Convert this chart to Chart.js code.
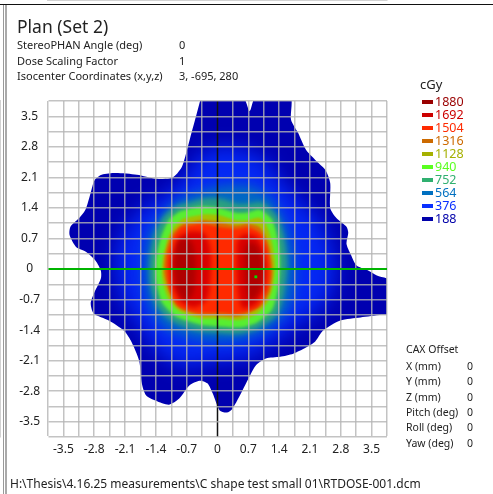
<!DOCTYPE html>
<html>
<head>
<meta charset="utf-8">
<title>Plan (Set 2)</title>
<script src="https://cdn.jsdelivr.net/npm/chart.js@4"></script>
<style>
  html, body { margin: 0; padding: 0; background: #fff; }
  body { position: relative; width: 493px; height: 494px; overflow: hidden; font-family: "Noto Sans", sans-serif; color: #222; }
  canvas { position: absolute; left: 0; top: 0; }
  .txt { position: absolute; white-space: nowrap; line-height: 14px; font-size: 11px; }
  .frame { position: absolute; }
</style>
</head>
<body>
<canvas id="doseChart" width="493" height="494"></canvas>
<div class="frame" style="left:0;top:4px;width:493px;height:1px;background:#111"></div>
<div class="frame" style="left:3px;top:5px;width:1px;height:489px;background:#999"></div>
<div class="frame" style="left:5px;top:5px;width:2px;height:489px;background:#aaa"></div>
<script>
// Axis ticks (grid every 0.35, label every 0.7)
const gridTicks = [-3.85, -3.5, -3.15, -2.8, -2.45, -2.1, -1.75, -1.4, -1.05, -0.7, -0.35, 0, 0.35, 0.7, 1.05, 1.4, 1.75, 2.1, 2.45, 2.8, 3.15, 3.5, 3.85];
const tickLabels = ['', '-3.5', '', '-2.8', '', '-2.1', '', '-1.4', '', '-0.7', '', '0', '', '0.7', '', '1.4', '', '2.1', '', '2.8', '', '3.5', ''];

// Legend
const doseLevels = [1880, 1692, 1504, 1316, 1128, 940, 752, 564, 376, 188];
const doseColors = ['#990000', '#cc0000', '#ff2a00', '#cc6a00', '#a5b000', '#5aff20', '#30b070', '#0070c0', '#0a30ff', '#0000aa'];

// Header and side tables
const headerRows = ['StereoPHAN Angle (deg)', 'Dose Scaling Factor', 'Isocenter Coordinates (x,y,z)'];
const headerValues = ['0', '1', '3, -695, 280'];
const offsetRows = ['X (mm)', 'Y (mm)', 'Z (mm)', 'Pitch (deg)', 'Roll (deg)', 'Yaw (deg)'];
const offsetValues = ['0', '0', '0', '0', '0', '0'];

// Isodose outlines, [x, y] in the axis units
const field188 = [[-0.37, 3.95], [-0.48, 3.53], [-0.59, 3.12], [-0.71, 2.66], [-0.82, 2.32], [-1.03, 2.09], [-1.40, 2.07], [-1.83, 2.16], [-2.31, 2.20], [-2.63, 2.16], [-2.79, 2.04], [-2.88, 1.75], [-3.00, 1.36], [-3.16, 1.15], [-3.34, 0.97], [-3.36, 0.78], [-3.20, 0.49], [-3.00, 0.40], [-2.77, 0.19], [-2.65, -0.04], [-2.65, -0.22], [-2.81, -0.57], [-2.88, -0.79], [-2.81, -1.02], [-2.47, -1.18], [-2.13, -1.41], [-1.97, -1.64], [-1.78, -2.10], [-1.72, -2.62], [-1.62, -2.90], [-1.40, -3.02], [-1.10, -3.11], [-0.87, -2.97], [-0.64, -2.67], [-0.41, -2.56], [-0.23, -2.62], [-0.11, -2.85], [0.05, -3.24], [0.21, -3.29], [0.34, -3.20], [0.57, -2.78], [0.73, -2.46], [0.87, -2.21], [1.10, -2.05], [1.42, -2.01], [1.72, -1.94], [2.01, -1.80], [2.22, -1.66], [2.40, -1.41], [2.79, -1.18], [3.25, -1.11], [3.73, -1.05], [3.95, -1.02], [3.95, -0.28], [3.62, -0.15], [3.39, -0.02], [3.16, 0.08], [3.02, 0.35], [2.93, 0.58], [2.97, 0.83], [2.93, 0.97], [2.70, 1.17], [2.56, 1.40], [2.56, 1.97], [2.45, 2.27], [2.22, 2.50], [2.01, 2.73], [1.83, 3.12], [1.67, 3.42], [1.65, 3.95], [0.87, 3.95], [0.73, 3.62], [0.57, 3.95], [-0.37, 3.95]];
const iso376 = [[-0.41, 2.60], [0.05, 2.80], [0.62, 2.72], [1.08, 2.50], [1.53, 1.90], [1.99, 1.45], [2.38, 1.00], [2.60, 0.44], [2.68, -0.02], [2.60, -0.47], [2.35, -0.90], [1.85, -1.25], [1.30, -1.65], [0.62, -2.05], [-0.07, -2.12], [-0.76, -2.25], [-1.33, -1.92], [-1.70, -1.40], [-2.10, -0.82], [-2.30, -0.13], [-2.30, 0.44], [-2.08, 0.95], [-1.62, 1.45], [-1.00, 1.80], [-0.41, 2.60]];
const iso564 = [[-0.41, 1.77], [0.09, 1.91], [0.73, 1.91], [1.19, 1.65], [1.53, 1.08], [1.72, 0.44], [1.76, -0.02], [1.72, -0.59], [1.53, -1.05], [1.08, -1.43], [0.50, -1.62], [-0.07, -1.66], [-0.64, -1.57], [-1.21, -1.34], [-1.51, -0.93], [-1.65, -0.36], [-1.65, 0.26], [-1.56, 0.78], [-1.21, 1.31], [-0.82, 1.63], [-0.41, 1.77]];
const iso752 = [[-0.64, 1.52], [-0.30, 1.61], [0.09, 1.61], [0.46, 1.49], [0.69, 1.49], [1.01, 1.52], [1.35, 1.22], [1.51, 0.72], [1.58, 0.14], [1.51, -0.54], [1.35, -1.05], [0.96, -1.34], [0.50, -1.48], [0.05, -1.46], [-0.46, -1.41], [-1.01, -1.21], [-1.37, -0.86], [-1.53, -0.29], [-1.53, 0.26], [-1.42, 0.81], [-1.21, 1.22], [-0.92, 1.45], [-0.64, 1.52]];
const iso940 = [[-0.87, 1.31], [-0.64, 1.38], [-0.34, 1.43], [0.05, 1.40], [0.43, 1.29], [0.66, 1.29], [0.96, 1.36], [1.24, 1.13], [1.37, 0.67], [1.42, 0.14], [1.37, -0.47], [1.24, -0.93], [0.89, -1.23], [0.50, -1.34], [0.05, -1.32], [-0.41, -1.27], [-0.94, -1.09], [-1.26, -0.77], [-1.40, -0.24], [-1.40, 0.21], [-1.28, 0.74], [-1.10, 1.13], [-0.87, 1.31]];
const iso1128 = [[-0.78, 1.16], [-0.33, 1.25], [0.05, 1.23], [0.42, 1.12], [0.67, 1.12], [0.95, 1.18], [1.11, 1.01], [1.24, 0.60], [1.31, 0.08], [1.24, -0.49], [1.11, -0.80], [0.84, -1.06], [0.49, -1.17], [0.05, -1.14], [-0.42, -1.13], [-0.89, -0.95], [-1.13, -0.66], [-1.26, -0.17], [-1.24, 0.25], [-1.13, 0.70], [-0.98, 0.98], [-0.78, 1.16]];
const iso1316 = [[-0.77, 1.04], [-0.36, 1.12], [0.05, 1.08], [0.41, 1.00], [0.68, 1.04], [0.97, 0.95], [1.16, 0.56], [1.25, -0.02], [1.19, -0.50], [1.01, -0.83], [0.70, -1.01], [0.48, -1.09], [0.05, -1.07], [-0.44, -1.05], [-0.88, -0.89], [-1.06, -0.59], [-1.21, -0.12], [-1.19, 0.32], [-1.08, 0.71], [-0.94, 0.91], [-0.77, 1.04]];
const iso1504 = [[-0.83, 0.96], [-0.35, 1.03], [0.05, 0.96], [0.41, 0.92], [0.69, 0.96], [0.98, 0.81], [1.13, 0.48], [1.20, -0.08], [1.13, -0.51], [0.91, -0.88], [0.48, -1.02], [0.05, -1.00], [-0.46, -1.00], [-0.89, -0.85], [-1.08, -0.51], [-1.15, -0.08], [-1.13, 0.35], [-1.00, 0.74], [-0.83, 0.96]];
const iso1692Left = [[-0.88, 0.74], [-0.64, 0.86], [-0.30, 0.82], [-0.16, 0.44], [-0.16, -0.13], [-0.23, -0.68], [-0.53, -0.88], [-0.84, -0.74], [-1.02, -0.36], [-1.05, 0.21], [-0.88, 0.74]];
const iso1692Right = [[0.62, 0.82], [0.90, 0.74], [1.04, 0.44], [1.10, -0.06], [1.04, -0.50], [0.88, -0.80], [0.57, -0.90], [0.46, -0.47], [0.43, 0.21], [0.46, 0.67], [0.62, 0.82]];
const coreLeft = [[-0.92, 0.62], [-0.75, 0.72], [-0.58, 0.62], [-0.50, 0.30], [-0.50, -0.30], [-0.58, -0.62], [-0.75, -0.72], [-0.90, -0.50], [-0.98, -0.15], [-0.98, 0.25], [-0.92, 0.62]];
const coreRight = [[0.72, 0.62], [0.88, 0.55], [1.00, 0.30], [1.04, -0.05], [1.00, -0.40], [0.86, -0.65], [0.72, -0.72], [0.64, -0.30], [0.62, 0.20], [0.63, 0.50], [0.72, 0.62]];

// Marks
const centralAxisX = [[0, -3.85], [0, 3.85]];
const maxDosePoint = [[0.87, -0.18]];

const toPoints = (pairs) => pairs.map(([x, y]) => ({ x, y }));

// Top dataset first, Chart.js paints the last one first
const bands = [
  [coreRight, '#b00000', 2.5], [coreLeft, '#b00000', 2.5],
  [iso1692Right, '#d80000', 2.5], [iso1692Left, '#d80000', 2.5],
  [iso1504, '#ff2a00', 1.5], [iso1316, '#d87000', 1.2], [iso1128, '#a5c000', 1.2],
  [iso940, '#58ee30', 1.5], [iso752, '#2aa080', 2.5], [iso564, '#0068c4', 6],
  [iso376, '#0428f4', 10], [field188, '#0000b0', 0],
];
const blurByIndex = [0, 0];
const datasets = [
  { data: toPoints(maxDosePoint), pointStyle: 'rect', pointRadius: 2, backgroundColor: '#00e000', borderWidth: 0, showLine: false },
  { data: toPoints(centralAxisX), showLine: true, borderColor: '#111', borderWidth: 1.5, pointRadius: 0 },
];
bands.forEach(([pairs, color, blur]) => {
  blurByIndex.push(blur);
  datasets.push({ data: toPoints(pairs), showLine: true, fill: 'shape', backgroundColor: color, borderWidth: 0, pointRadius: 0, tension: 0.25 });
});

// Soft edges between the bands, kept inside the field outline
const softBands = {
  id: 'softBands',
  beforeDatasetsDraw(chart) {
    chart.ctx.filter = 'none';
  },
  afterDatasetDraw(chart, args) {
    const next = args.index - 1;
    const ctx = chart.ctx;
    if (blurByIndex[next] > 0) {
      ctx.filter = `blur(${blurByIndex[next]}px)`;
      ctx.globalCompositeOperation = 'source-atop';
    } else {
      ctx.filter = 'none';
      ctx.globalCompositeOperation = 'source-over';
    }
  },
  afterDatasetsDraw(chart) {
    chart.ctx.filter = 'none';
    chart.ctx.globalCompositeOperation = 'source-over';
  },
};

const gridGrey = 'rgba(180, 180, 180, 0.8)';
const axisBase = {
  type: 'linear',
  min: -3.85,
  max: 3.85,
  afterBuildTicks(axis) {
    axis.ticks = gridTicks.map((value) => ({ value }));
  },
  border: { display: true, color: gridGrey, width: 1.5 },
};

new Chart(document.getElementById('doseChart'), {
  type: 'scatter',
  data: { datasets },
  options: {
    responsive: false,
    animation: false,
    layout: { padding: { left: 0, top: 101, right: 106, bottom: 0 } },
    plugins: { legend: { display: false }, tooltip: { enabled: false } },
    scales: {
      x: {
        ...axisBase,
        afterFit(axis) { axis.height = 57; },
        grid: {
          z: 1, drawTicks: false, lineWidth: 1.5,
          // the central axis line stays visible at x = 0
          color: (c) => (c.tick.value === 0 ? 'transparent' : gridGrey),
        },
        ticks: {
          padding: 5, autoSkip: false, maxRotation: 0, color: '#222',
          font: { family: '"Noto Sans"', size: 12 },
          callback: (value, index) => tickLabels[index],
        },
      },
      y: {
        ...axisBase,
        afterFit(axis) { axis.width = 48; },
        grid: {
          z: 1, drawTicks: false,
          color: (c) => (c.tick.value === 0 ? '#00b400' : gridGrey),
          lineWidth: (c) => (c.tick.value === 0 ? 2 : 1.5),
        },
        ticks: {
          padding: 8, autoSkip: false, crossAlign: 'center', color: '#222',
          font: { family: '"Noto Sans"', size: 12 },
          callback: (value, index) => tickLabels[index],
        },
      },
    },
  },
  plugins: [softBands],
});

// Text around the plot
function addText(text, left, top, size, color) {
  const el = document.createElement('div');
  el.className = 'txt';
  el.textContent = text;
  el.style.left = left + 'px';
  el.style.top = top + 'px';
  if (size) el.style.fontSize = size + 'px';
  if (color) el.style.color = color;
  document.body.appendChild(el);
}

addText('Plan (Set 2)', 17, 19, 17.5);
headerRows.forEach((label, i) => {
  addText(label, 17, 38 + i * 15.5);
  addText(headerValues[i], 179, 38 + i * 15.5);
});
addText('cGy', 420, 77, 13);
doseLevels.forEach((level, i) => {
  addText(String(level), 435, 95 + i * 13, 12.5, doseColors[i]);
  const swatch = document.createElement('div');
  swatch.className = 'frame';
  swatch.style.cssText = `left:422px;top:${100 + i * 13}px;width:11px;height:4px;background:${doseColors[i]}`;
  document.body.appendChild(swatch);
});
addText('CAX Offset', 406, 342, 10.5);
offsetRows.forEach((label, i) => {
  addText(label, 406, 359 + i * 15.3, 10.5);
  addText(offsetValues[i], 467, 359 + i * 15.3, 10.5);
});
addText('H:\\Thesis\\4.16.25 measurements\\C shape test small 01\\RTDOSE-001.dcm', 10, 477, 12);
</script>
</body>
</html>
